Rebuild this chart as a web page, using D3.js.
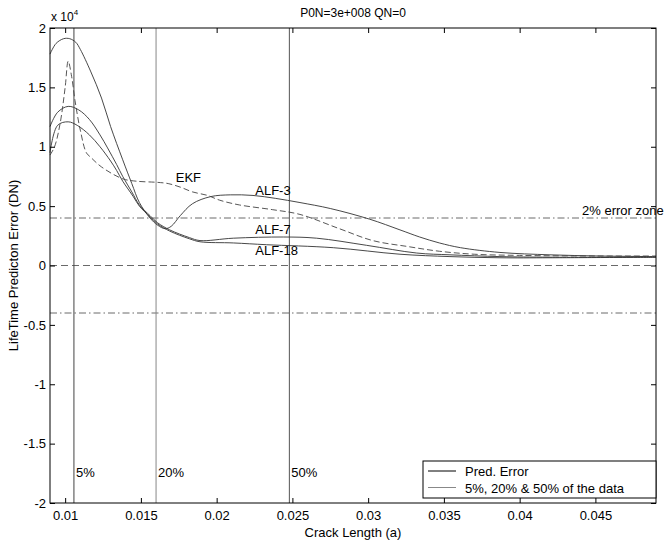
<!DOCTYPE html>
<html>
<head>
<meta charset="utf-8">
<script src="https://cdn.jsdelivr.net/npm/d3@7"></script>
<style>
  body { margin: 0; background: #fff; }
  svg { font-family: "Liberation Sans", Arial, sans-serif; }
</style>
</head>
<body>
<div id="chart"></div>
<script>
// crack length (a) vs lifetime prediction error, in units of 1e4

const alf3 = [[0.009,1.78],[0.0094,1.87],[0.0099,1.91],[0.0103,1.91],[0.0107,1.88],[0.011,1.82],
  [0.0117,1.63],[0.0124,1.41],[0.013,1.17],[0.0138,0.89],[0.0144,0.69],[0.0149,0.53],[0.0156,0.40],
  [0.0161,0.34],[0.0166,0.31],[0.0170,0.33],[0.0176,0.42],[0.0184,0.52],[0.0196,0.58],[0.0209,0.595],
  [0.0224,0.59],[0.0239,0.565],[0.0255,0.53],[0.0275,0.48],[0.0301,0.39],[0.0321,0.30],[0.0334,0.24],
  [0.0347,0.19],[0.0361,0.15],[0.0387,0.11],[0.042,0.09],[0.0453,0.08],[0.049,0.075]];

const alf7 = [[0.009,1.17],[0.0095,1.29],[0.0102,1.34],[0.0109,1.31],[0.0116,1.23],[0.0123,1.10],
  [0.0128,0.99],[0.0134,0.85],[0.0138,0.75],[0.0144,0.62],[0.0149,0.51],[0.0156,0.42],[0.0161,0.36],
  [0.0169,0.30],[0.0182,0.235],[0.0189,0.21],[0.0211,0.23],[0.0244,0.24],[0.0266,0.23],[0.0299,0.17],
  [0.0332,0.105],[0.0354,0.09],[0.0387,0.075],[0.042,0.07],[0.049,0.07]];

const alf18 = [[0.009,0.95],[0.0095,1.18],[0.0102,1.21],[0.0108,1.18],[0.0116,1.10],[0.0123,1.0],
  [0.013,0.88],[0.0134,0.80],[0.0138,0.71],[0.0145,0.58],[0.0149,0.50],[0.0156,0.41],[0.0161,0.35],
  [0.0169,0.29],[0.0182,0.225],[0.0189,0.20],[0.0211,0.19],[0.0233,0.175],[0.0277,0.15],[0.0321,0.095],
  [0.0354,0.075],[0.0387,0.065],[0.042,0.065],[0.049,0.07]];

const ekf = [[0.009,0.93],[0.0093,1.0],[0.00966,1.19],[0.0100,1.5],[0.0102,1.72],[0.01043,1.59],
  [0.01065,1.39],[0.011,1.14],[0.0114,0.95],[0.0117,0.91],[0.0124,0.83],[0.0138,0.73],[0.0147,0.71],
  [0.0161,0.70],[0.0168,0.69],[0.0176,0.66],[0.0184,0.62],[0.0194,0.59],[0.0202,0.55],[0.0215,0.51],
  [0.0237,0.47],[0.0255,0.43],[0.0281,0.31],[0.0303,0.21],[0.0326,0.16],[0.0347,0.12],[0.037,0.095],
  [0.04,0.085],[0.045,0.08],[0.049,0.08]];

// data fraction markers (5%, 20%, 50%)
const fracX = [0.01058, 0.0160, 0.0248];
const fracLabels = ["5%", "20%", "50%"];
const fracColors = ["#444", "#888", "#555"];

// error zone limits and zero line
const zoneY = [0.4, -0.4];
const zeroY = 0;

const xTicks = [0.01, 0.015, 0.02, 0.025, 0.03, 0.035, 0.04, 0.045];
const xTickLabels = ["0.01", "0.015", "0.02", "0.025", "0.03", "0.035", "0.04", "0.045"];
const yTicks = [-2, -1.5, -1, -0.5, 0, 0.5, 1, 1.5, 2];
const yTickLabels = ["-2", "-1.5", "-1", "-0.5", "0", "0.5", "1", "1.5", "2"];

const width = 669, height = 545;
const margin = {top: 28, right: 13, bottom: 42, left: 50};

const svg = d3.select("#chart").append("svg")
  .attr("width", width).attr("height", height);

const x = d3.scaleLinear().domain([0.009, 0.049]).range([margin.left, width - margin.right]);
const y = d3.scaleLinear().domain([-2, 2]).range([height - margin.bottom, margin.top]);

const x0 = margin.left, x1 = width - margin.right;
const y0 = height - margin.bottom, y1 = margin.top;

// reference lines
svg.selectAll(".zone").data(zoneY).enter().append("line")
  .attr("x1", x0).attr("x2", x1)
  .attr("y1", d => y(d)).attr("y2", d => y(d))
  .attr("stroke", "#444").attr("stroke-width", 0.8)
  .attr("stroke-dasharray", "7,3,1.5,3");

svg.append("line")
  .attr("x1", x0).attr("x2", x1)
  .attr("y1", y(zeroY)).attr("y2", y(zeroY))
  .attr("stroke", "#444").attr("stroke-width", 0.8)
  .attr("stroke-dasharray", "7,4");

svg.selectAll(".frac").data(fracX).enter().append("line")
  .attr("x1", d => x(d)).attr("x2", d => x(d))
  .attr("y1", y0).attr("y2", y1)
  .attr("stroke", (d, i) => fracColors[i]).attr("stroke-width", 1);

svg.selectAll(".fracLabel").data(fracX).enter().append("text")
  .attr("x", d => x(d) + 2).attr("y", 477)
  .attr("font-size", 13)
  .text((d, i) => fracLabels[i]);

// curves
const line = d3.line()
  .x(d => x(d[0])).y(d => y(d[1]))
  .curve(d3.curveCatmullRom.alpha(0.5));

[alf3, alf7, alf18].forEach(s => {
  svg.append("path").datum(s)
    .attr("d", line).attr("fill", "none")
    .attr("stroke", "#333").attr("stroke-width", 0.9);
});

svg.append("path").datum(ekf)
  .attr("d", line).attr("fill", "none")
  .attr("stroke", "#444").attr("stroke-width", 0.9)
  .attr("stroke-dasharray", "6,3");

// curve labels
const curveLabels = [
  {t: "EKF", x: 0.0173, y: 0.70},
  {t: "ALF-3", x: 0.02255, y: 0.595},
  {t: "ALF-7", x: 0.02255, y: 0.265},
  {t: "ALF-18", x: 0.02255, y: 0.09}
];
svg.selectAll(".clabel").data(curveLabels).enter().append("text")
  .attr("x", d => x(d.x)).attr("y", d => y(d.y))
  .attr("font-size", 13)
  .text(d => d.t);

svg.append("text")
  .attr("x", 582).attr("y", y(zoneY[0]) - 3)
  .attr("font-size", 13)
  .text("2% error zone");

// axes (ticks point inward, matlab style)
const fmtX = d => xTickLabels[xTicks.indexOf(d)];
const fmtY = d => yTickLabels[yTicks.indexOf(d)];

svg.append("g")
  .attr("transform", `translate(0,${y0})`)
  .call(d3.axisBottom(x).tickValues(xTicks).tickFormat(fmtX).tickSizeInner(-5).tickSizeOuter(0).tickPadding(8));
svg.append("g")
  .attr("transform", `translate(0,${y1})`)
  .call(d3.axisTop(x).tickValues(xTicks).tickFormat("").tickSizeInner(-5).tickSizeOuter(0));
svg.append("g")
  .attr("transform", `translate(${x0},0)`)
  .call(d3.axisLeft(y).tickValues(yTicks).tickFormat(fmtY).tickSizeInner(-5).tickSizeOuter(0).tickPadding(4));
svg.append("g")
  .attr("transform", `translate(${x1},0)`)
  .call(d3.axisRight(y).tickValues(yTicks).tickFormat("").tickSizeInner(-5).tickSizeOuter(0));

svg.selectAll(".tick text").attr("font-size", 13).attr("fill", "#000")
  .attr("font-family", "Liberation Sans, Arial, sans-serif");
svg.selectAll(".domain").remove();
svg.selectAll(".tick line").attr("stroke", "#000");

svg.append("rect")
  .attr("x", x0).attr("y", y1)
  .attr("width", x1 - x0).attr("height", y0 - y1)
  .attr("fill", "none").attr("stroke", "#000").attr("stroke-width", 1);

// titles
svg.append("text")
  .attr("x", (x0 + x1) / 2).attr("y", 17)
  .attr("text-anchor", "middle").attr("font-size", 12)
  .text("P0N=3e+008 QN=0");

const mult = svg.append("text").attr("x", 51).attr("y", 21).attr("font-size", 12);
mult.append("tspan").text("x 10");
mult.append("tspan").attr("dy", -6).attr("font-size", 8).text("4");

svg.append("text")
  .attr("x", (x0 + x1) / 2).attr("y", 537)
  .attr("text-anchor", "middle").attr("font-size", 13)
  .text("Crack Length (a)");

svg.append("text")
  .attr("transform", `translate(18,${(y0 + y1) / 2}) rotate(-90)`)
  .attr("text-anchor", "middle").attr("font-size", 13)
  .text("LifeTime Predicton Error (DN)");

// legend
const legend = svg.append("g");
legend.append("rect")
  .attr("x", 423).attr("y", 461).attr("width", x1 - 423).attr("height", 37)
  .attr("fill", "#fff").attr("stroke", "#000").attr("stroke-width", 1);
const legItems = ["Pred. Error", "5%, 20% & 50% of the data"];
const legColors = ["#000", "#888"];
legItems.forEach((t, i) => {
  const ly = 471 + i * 16.5;
  legend.append("line")
    .attr("x1", 428).attr("x2", 456).attr("y1", ly).attr("y2", ly)
    .attr("stroke", legColors[i]).attr("stroke-width", 1);
  legend.append("text")
    .attr("x", 465).attr("y", ly + 5)
    .attr("font-size", 13).text(t);
});
</script>
</body>
</html>
